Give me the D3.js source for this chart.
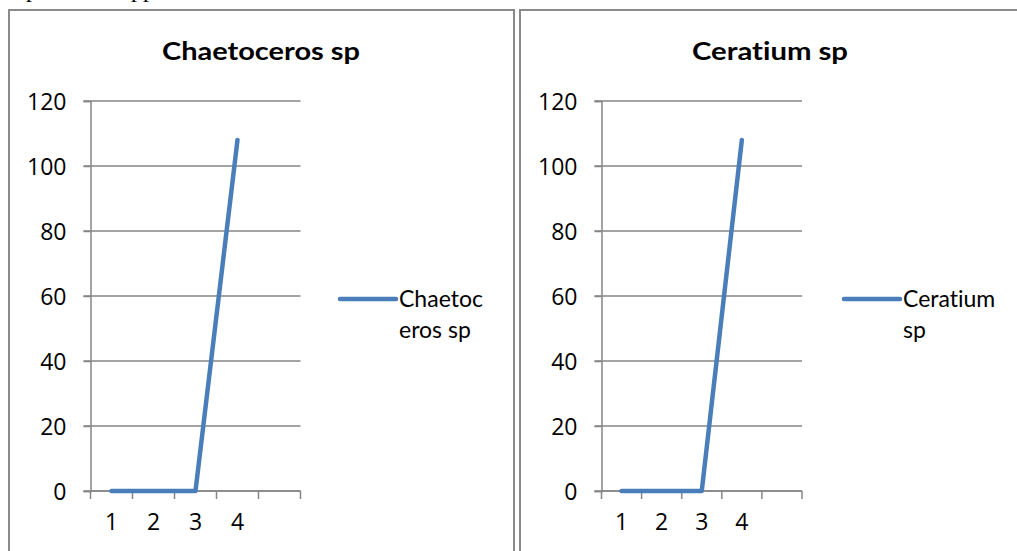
<!DOCTYPE html>
<html>
<head>
<meta charset="utf-8">
<script src="https://cdn.jsdelivr.net/npm/d3@7"></script>
<style>
  html, body { margin: 0; padding: 0; background: #fff; }
  svg { display: block; }
  text { font-family: Lato, "Open Sans", sans-serif; fill: #000;
         font-variant-ligatures: none; font-feature-settings: "liga" 0; }
  .num { font-family: "Open Sans", sans-serif; font-size: 23px; }
</style>
</head>
<body>
<svg id="page" width="1017" height="551"></svg>
<script>
// Samples (x categories) and cell counts per genus
const categories = ["1", "2", "3", "4", ""];
const chaetocerosValues = [0, 0, 0, 108, null];
const ceratiumValues = [0, 0, 0, 108, null];
const yTicks = [0, 20, 40, 60, 80, 100, 120];
const titles = ["Chaetoceros sp", "Ceratium sp"];
const legendLines = [["Chaetoc", "eros sp"], ["Ceratium", "sp"]];

const svg = d3.select("#page");
const GRID = "#868686";
const BLUE = "#4a7ebb";

// Fragment of the previous text line, cut by the top of the page
svg.append("text").attr("x", 26).attr("y", -3)
  .style("font-family", "'Liberation Serif', serif").style("font-size", "24px").text("p");
svg.append("text").attr("x", 131).attr("y", -3)
  .style("font-family", "'Liberation Serif', serif").style("font-size", "24px").text("pp");

function drawChart(opt) {
  const g = svg.append("g");

  // chart frame (continues below the page edge)
  g.append("rect")
    .attr("x", opt.frame[0]).attr("y", opt.frame[1])
    .attr("width", opt.frame[2]).attr("height", 700)
    .attr("fill", "none").attr("stroke", "#8a8a8a").attr("stroke-width", 2);

  const x = d3.scaleBand().domain(d3.range(categories.length))
    .range([opt.x0, opt.x1]).padding(0);
  const y = d3.scaleLinear().domain([0, 120]).range([opt.yBottom, opt.yTop]);

  // horizontal gridlines
  g.append("g").selectAll("line").data(yTicks).join("line")
    .attr("x1", opt.x0 - 7).attr("x2", opt.x1)
    .attr("y1", d => y(d)).attr("y2", d => y(d))
    .attr("stroke", GRID).attr("stroke-width", 1.5);

  // y axis
  const ya = g.append("g").attr("transform", `translate(${opt.x0},0)`)
    .call(d3.axisLeft(y).tickValues(yTicks).tickSize(7).tickPadding(17));
  ya.attr("font-family", null).attr("font-size", null);
  ya.select(".domain").attr("stroke", GRID).attr("stroke-width", 1.5);
  ya.selectAll(".tick line").attr("stroke", GRID).attr("stroke-width", 1.5);
  ya.selectAll(".tick text").attr("class", "num").attr("dy", "0.36em");

  // x axis: labels at category centres, tick marks at category boundaries
  const xa = g.append("g").attr("transform", `translate(0,${opt.yBottom})`)
    .call(d3.axisBottom(x).tickSize(0).tickPadding(23).tickFormat(i => categories[i]));
  xa.attr("font-family", null).attr("font-size", null);
  xa.select(".domain").remove();
  xa.selectAll(".tick text").attr("class", "num");
  g.append("line").attr("x1", opt.x0).attr("x2", opt.x1)
    .attr("y1", opt.yBottom).attr("y2", opt.yBottom)
    .attr("stroke", GRID).attr("stroke-width", 1.5);
  const bounds = d3.range(categories.length).map(i => x(i)).concat([x.range()[1]]);
  g.append("g").selectAll("line").data(bounds).join("line")
    .attr("x1", d => d).attr("x2", d => d)
    .attr("y1", opt.yBottom).attr("y2", opt.yBottom + 8)
    .attr("stroke", GRID).attr("stroke-width", 1.5);

  // series line
  const line = d3.line()
    .defined(d => d.v != null)
    .x(d => x(d.i) + x.bandwidth() / 2)
    .y(d => y(d.v));
  g.append("path")
    .datum(opt.values.map((v, i) => ({ i, v })))
    .attr("d", line)
    .attr("fill", "none").attr("stroke", BLUE).attr("stroke-width", 4.5)
    .attr("stroke-linecap", "round").attr("stroke-linejoin", "round");

  // title
  g.append("text").attr("x", opt.titleX).attr("y", 60)
    .attr("text-anchor", "middle")
    .attr("textLength", opt.titleW).attr("lengthAdjust", "spacingAndGlyphs")
    .style("font-weight", "bold").style("font-size", "24px")
    .text(opt.title);

  // legend
  g.append("line").attr("x1", opt.legX).attr("x2", opt.legX + 56)
    .attr("y1", 299).attr("y2", 299)
    .attr("stroke", BLUE).attr("stroke-width", 4.5).attr("stroke-linecap", "round");
  const lt = g.append("text").style("font-size", "23px");
  opt.legend.forEach((s, k) => {
    lt.append("tspan").attr("x", opt.legX + 59).attr("y", 307 + k * 31).text(s);
  });
}

drawChart({ frame: [9, 10, 505], x0: 90.5, x1: 300.5, yTop: 101, yBottom: 491,
  values: chaetocerosValues, title: titles[0], titleX: 261, titleW: 198,
  legX: 340, legend: legendLines[0] });
drawChart({ frame: [520, 10, 520], x0: 601.5, x1: 802, yTop: 101, yBottom: 491,
  values: ceratiumValues, title: titles[1], titleX: 770, titleW: 156,
  legX: 844, legend: legendLines[1] });
</script>
</body>
</html>
